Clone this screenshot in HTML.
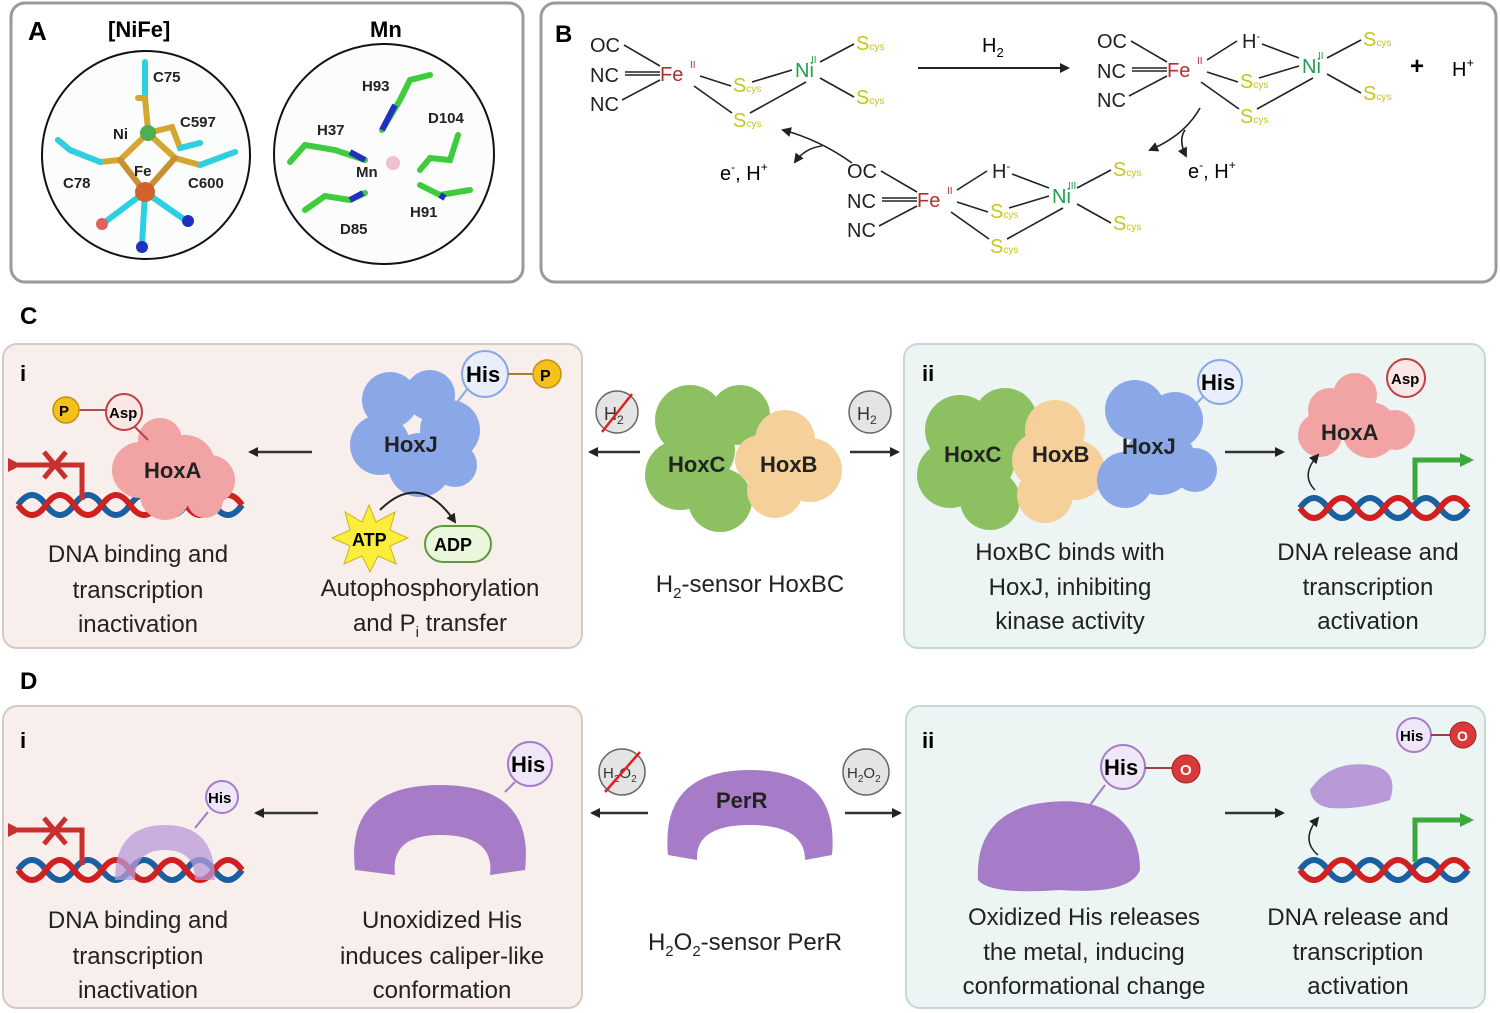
<!DOCTYPE html>
<html><head><meta charset="utf-8"><style>
html,body{margin:0;padding:0;background:#fff;}
svg{display:block;font-family:"Liberation Sans",sans-serif;}
</style></head><body>
<svg width="1500" height="1013" viewBox="0 0 1500 1013" xmlns="http://www.w3.org/2000/svg">
<defs>
<marker id="ah" markerWidth="10" markerHeight="10" refX="8" refY="5" orient="auto" markerUnits="userSpaceOnUse"><path d="M0,0 L10,5 L0,10 z" fill="#222"/></marker>
<marker id="ahg" markerWidth="14" markerHeight="14" refX="10" refY="7" orient="auto" markerUnits="userSpaceOnUse"><path d="M0,0 L14,7 L0,14 z" fill="#3aa83a"/></marker>
<marker id="ahr" markerWidth="14" markerHeight="14" refX="4" refY="7" orient="auto" markerUnits="userSpaceOnUse"><path d="M14,0 L0,7 L14,14 z" fill="#c83030"/></marker>
</defs>

<!-- Panel A -->
<rect x="11" y="3" width="512" height="279" rx="14" fill="#fff" stroke="#9a9a9a" stroke-width="3"/>
<text x="28" y="40" font-size="26" font-weight="bold">A</text>
<text x="108" y="37" font-size="22" font-weight="bold">[NiFe]</text>
<text x="370" y="37" font-size="22" font-weight="bold">Mn</text>
<circle cx="146" cy="155" r="104" fill="#fbfdfd" stroke="#111" stroke-width="2"/>
<circle cx="384" cy="154" r="110" fill="#fbfcfb" stroke="#111" stroke-width="2"/>
<g stroke-linecap="round" fill="none">
 <path d="M145,62 L145,98" stroke="#2dd0e0" stroke-width="6"/>
 <path d="M138,98 L145,98 L148,130" stroke="#d4a830" stroke-width="6"/>
 <path d="M148,133 L120,160 L100,162 L70,150 L58,140" stroke="#d4a830" stroke-width="6"/>
 <path d="M100,162 L70,150 L58,140" stroke="#2dd0e0" stroke-width="6"/>
 <path d="M148,133 L175,158 L200,165 L235,152" stroke="#d4a830" stroke-width="6"/>
 <path d="M200,165 L235,152" stroke="#2dd0e0" stroke-width="6"/>
 <path d="M148,133 L172,127 L180,148 L200,143" stroke="#d4a830" stroke-width="6"/>
 <path d="M180,148 L200,143" stroke="#2dd0e0" stroke-width="6"/>
 <path d="M120,160 L145,192 L175,158" stroke="#c89030" stroke-width="6"/>
 <path d="M145,192 L105,222 M145,192 L142,245 M145,192 L185,220" stroke="#2dd0e0" stroke-width="6"/>
</g>
<circle cx="148" cy="133" r="8" fill="#4caf50"/>
<circle cx="145" cy="192" r="10" fill="#d4602a"/>
<circle cx="102" cy="224" r="6" fill="#e06060"/><circle cx="142" cy="247" r="6" fill="#2030c0"/><circle cx="188" cy="221" r="6" fill="#2030c0"/>
<g font-size="15" font-weight="bold" fill="#222">
<text x="153" y="82">C75</text><text x="180" y="127">C597</text><text x="113" y="139">Ni</text>
<text x="134" y="176">Fe</text><text x="63" y="188">C78</text><text x="188" y="188">C600</text>
</g>
<g stroke="#3ecc3e" stroke-width="6" stroke-linecap="round" fill="none">
 <path d="M382,130 L400,100 L410,80 L430,75"/><path d="M290,162 L305,145 L335,150 L365,160"/>
 <path d="M420,170 L430,158 L450,160 L458,135"/><path d="M420,185 L440,195 L470,190"/>
 <path d="M305,210 L325,196 L350,200 L365,193"/>
</g>
<path d="M382,130 L395,105 M350,152 L365,160 M350,200 L363,193 M440,195 L445,198" stroke="#2030c0" stroke-width="6"/>
<circle cx="393" cy="163" r="7" fill="#f0c0d0"/>
<g font-size="15" font-weight="bold" fill="#222">
<text x="362" y="91">H93</text><text x="317" y="135">H37</text><text x="428" y="123">D104</text>
<text x="356" y="177">Mn</text><text x="410" y="217">H91</text><text x="340" y="234">D85</text>
</g>

<!-- Panel B -->
<rect x="541" y="3" width="955" height="279" rx="14" fill="#fff" stroke="#9a9a9a" stroke-width="3"/>
<text x="555" y="42" font-size="24" font-weight="bold">B</text>
<g font-size="20">
 <text x="590" y="52" fill="#222">OC</text><text x="590" y="82" fill="#222">NC</text><text x="590" y="111" fill="#222">NC</text>
 <text x="660" y="81" fill="#b03030">Fe</text><text x="690" y="68" fill="#b03030" font-size="10">II</text>
 <text x="795" y="77" fill="#20a050">Ni</text><text x="811" y="63" fill="#20a050" font-size="10">II</text>
 <text x="733" y="92" fill="#c6c61c">S<tspan font-size="10">cys</tspan></text>
 <text x="733" y="127" fill="#c6c61c">S<tspan font-size="10">cys</tspan></text>
 <text x="856" y="50" fill="#c6c61c">S<tspan font-size="10">cys</tspan></text>
 <text x="856" y="104" fill="#c6c61c">S<tspan font-size="10">cys</tspan></text>
 <g stroke="#222" stroke-width="1.6">
  <line x1="624" y1="45" x2="660" y2="66"/><line x1="625" y1="72" x2="660" y2="72"/><line x1="625" y1="75" x2="660" y2="75"/>
  <line x1="622" y1="100" x2="660" y2="80"/><line x1="700" y1="76" x2="731" y2="86"/><line x1="752" y1="82" x2="792" y2="70"/>
  <line x1="694" y1="86" x2="732" y2="113"/><line x1="806" y1="82" x2="750" y2="113"/>
  <line x1="820" y1="62" x2="854" y2="44"/><line x1="820" y1="78" x2="854" y2="97"/>
 </g>
</g>
<g transform="translate(507,-4)" font-size="20">
 <text x="590" y="52" fill="#222">OC</text><text x="590" y="82" fill="#222">NC</text><text x="590" y="111" fill="#222">NC</text>
 <text x="660" y="81" fill="#b03030">Fe</text><text x="690" y="68" fill="#b03030" font-size="10">II</text>
 <text x="795" y="77" fill="#20a050">Ni</text><text x="811" y="63" fill="#20a050" font-size="10">II</text>
 <text x="733" y="92" fill="#c6c61c">S<tspan font-size="10">cys</tspan></text>
 <text x="733" y="127" fill="#c6c61c">S<tspan font-size="10">cys</tspan></text>
 <text x="856" y="50" fill="#c6c61c">S<tspan font-size="10">cys</tspan></text>
 <text x="856" y="104" fill="#c6c61c">S<tspan font-size="10">cys</tspan></text>
 <text x="735" y="52" fill="#222">H<tspan font-size="11" dy="-8">-</tspan></text>
 <g stroke="#222" stroke-width="1.6">
  <line x1="624" y1="45" x2="660" y2="66"/><line x1="625" y1="72" x2="660" y2="72"/><line x1="625" y1="75" x2="660" y2="75"/>
  <line x1="622" y1="100" x2="660" y2="80"/><line x1="700" y1="76" x2="731" y2="86"/><line x1="752" y1="82" x2="792" y2="70"/>
  <line x1="694" y1="86" x2="732" y2="113"/><line x1="806" y1="82" x2="750" y2="113"/>
  <line x1="820" y1="62" x2="854" y2="44"/><line x1="820" y1="78" x2="854" y2="97"/>
  <line x1="700" y1="64" x2="730" y2="45"/><line x1="755" y1="48" x2="792" y2="62"/>
 </g>
</g>
<g transform="translate(257,126)" font-size="20">
 <text x="590" y="52" fill="#222">OC</text><text x="590" y="82" fill="#222">NC</text><text x="590" y="111" fill="#222">NC</text>
 <text x="660" y="81" fill="#b03030">Fe</text><text x="690" y="68" fill="#b03030" font-size="10">II</text>
 <text x="795" y="77" fill="#20a050">Ni</text><text x="811" y="63" fill="#20a050" font-size="10">III</text>
 <text x="733" y="92" fill="#c6c61c">S<tspan font-size="10">cys</tspan></text>
 <text x="733" y="127" fill="#c6c61c">S<tspan font-size="10">cys</tspan></text>
 <text x="856" y="50" fill="#c6c61c">S<tspan font-size="10">cys</tspan></text>
 <text x="856" y="104" fill="#c6c61c">S<tspan font-size="10">cys</tspan></text>
 <text x="735" y="52" fill="#222">H<tspan font-size="11" dy="-8">-</tspan></text>
 <g stroke="#222" stroke-width="1.6">
  <line x1="624" y1="45" x2="660" y2="66"/><line x1="625" y1="72" x2="660" y2="72"/><line x1="625" y1="75" x2="660" y2="75"/>
  <line x1="622" y1="100" x2="660" y2="80"/><line x1="700" y1="76" x2="731" y2="86"/><line x1="752" y1="82" x2="792" y2="70"/>
  <line x1="694" y1="86" x2="732" y2="113"/><line x1="806" y1="82" x2="750" y2="113"/>
  <line x1="820" y1="62" x2="854" y2="44"/><line x1="820" y1="78" x2="854" y2="97"/>
  <line x1="700" y1="64" x2="730" y2="45"/><line x1="755" y1="48" x2="792" y2="62"/>
 </g>
</g>
<line x1="918" y1="68" x2="1068" y2="68" stroke="#222" stroke-width="2" marker-end="url(#ah)"/>
<text x="982" y="52" font-size="20">H<tspan font-size="13" dy="5">2</tspan></text>
<text x="1410" y="74" font-size="24" font-weight="bold">+</text>
<text x="1452" y="76" font-size="20">H<tspan font-size="13" dy="-9">+</tspan></text>
<path d="M1200,108 Q1185,135 1150,150" stroke="#222" stroke-width="1.6" fill="none" marker-end="url(#ah)"/>
<path d="M1185,130 Q1178,140 1186,156" stroke="#222" stroke-width="1.6" fill="none" marker-end="url(#ah)"/>
<text x="1188" y="178" font-size="20">e<tspan font-size="12" dy="-9">-</tspan><tspan dy="9">, H</tspan><tspan font-size="12" dy="-9">+</tspan></text>
<path d="M852,163 Q820,140 783,130" stroke="#222" stroke-width="1.6" fill="none" marker-end="url(#ah)"/>
<path d="M822,146 Q805,148 795,162" stroke="#222" stroke-width="1.6" fill="none" marker-end="url(#ah)"/>
<text x="720" y="180" font-size="20">e<tspan font-size="12" dy="-9">-</tspan><tspan dy="9">, H</tspan><tspan font-size="12" dy="-9">+</tspan></text>

<!-- C & D boxes -->
<text x="20" y="324" font-size="24" font-weight="bold">C</text>
<rect x="3" y="344" width="579" height="304" rx="14" fill="#f8efec" stroke="#d8c8c4" stroke-width="2"/>
<rect x="904" y="344" width="581" height="304" rx="14" fill="#edf5f4" stroke="#c4d8d6" stroke-width="2"/>
<text x="20" y="381" font-size="22" font-weight="bold">i</text>
<text x="922" y="381" font-size="22" font-weight="bold">ii</text>
<text x="20" y="689" font-size="24" font-weight="bold">D</text>
<rect x="3" y="706" width="579" height="302" rx="14" fill="#f8efec" stroke="#d8c8c4" stroke-width="2"/>
<rect x="906" y="706" width="579" height="302" rx="14" fill="#edf5f4" stroke="#c4d8d6" stroke-width="2"/>
<text x="20" y="748" font-size="22" font-weight="bold">i</text>
<text x="922" y="748" font-size="22" font-weight="bold">ii</text>

<!-- DNA -->
<g fill="none" stroke-width="6">
 <path d="M18,505 q14,-20 28,0 t28,0 t28,0 t28,0 t28,0 t28,0 t28,0 t28,0" stroke="#1a5fa0"/>
 <path d="M18,505 q14,20 28,0 t28,0 t28,0 t28,0 t28,0 t28,0 t28,0 t28,0" stroke="#d02020"/>
 <path d="M1300,508 q14,-20 28,0 t28,0 t28,0 t28,0 t28,0 t28,0" stroke="#1a5fa0"/>
 <path d="M1300,508 q14,20 28,0 t28,0 t28,0 t28,0 t28,0 t28,0" stroke="#d02020"/>
 <path d="M18,870 q14,-20 28,0 t28,0 t28,0 t28,0 t28,0 t28,0 t28,0 t28,0" stroke="#1a5fa0"/>
 <path d="M18,870 q14,20 28,0 t28,0 t28,0 t28,0 t28,0 t28,0 t28,0 t28,0" stroke="#d02020"/>
 <path d="M1300,870 q14,-20 28,0 t28,0 t28,0 t28,0 t28,0 t28,0" stroke="#1a5fa0"/>
 <path d="M1300,870 q14,20 28,0 t28,0 t28,0 t28,0 t28,0 t28,0" stroke="#d02020"/>
</g>
<g stroke="#c83030" stroke-width="5" fill="none">
 <path d="M82,500 L82,465 L18,465" marker-end="url(#ahr)"/>
 <path d="M44,452 L66,478 M66,452 L44,478"/>
 <path d="M82,865 L82,830 L18,830" marker-end="url(#ahr)"/>
 <path d="M44,818 L66,844 M66,818 L44,844"/>
</g>
<g stroke="#3aa83a" stroke-width="5" fill="none">
 <path d="M1415,500 L1415,460 L1470,460" marker-end="url(#ahg)"/>
 <path d="M1415,862 L1415,820 L1470,820" marker-end="url(#ahg)"/>
</g>

<!-- HoxA C i -->
<g fill="#f2a3a3"><circle cx="160" cy="440" r="22"/><circle cx="140" cy="470" r="28"/><circle cx="185" cy="465" r="30"/><circle cx="210" cy="480" r="25"/><circle cx="165" cy="495" r="25"/><circle cx="205" cy="500" r="18"/></g>
<text x="144" y="478" font-size="22" font-weight="bold" fill="#222">HoxA</text>
<line x1="78" y1="410" x2="106" y2="410" stroke="#b05050" stroke-width="2"/>
<circle cx="66" cy="410" r="13" fill="#f3c11a" stroke="#c09010" stroke-width="1.5"/><text x="59" y="416" font-size="15" font-weight="bold">P</text>
<circle cx="124" cy="412" r="18" fill="#fbe6e6" stroke="#c04040" stroke-width="2"/><text x="109" y="418" font-size="15" font-weight="bold">Asp</text>
<line x1="135" y1="427" x2="148" y2="440" stroke="#c04040" stroke-width="2"/>
<g font-size="24" fill="#222" text-anchor="middle"><text x="138" y="562">DNA binding  and</text><text x="138" y="598">transcription</text><text x="138" y="632">inactivation</text></g>
<line x1="312" y1="452" x2="250" y2="452" stroke="#333" stroke-width="2.5" marker-end="url(#ah)"/>

<!-- HoxJ C i -->
<g fill="#8aa8e8"><circle cx="390" cy="400" r="28"/><circle cx="430" cy="395" r="25"/><circle cx="450" cy="430" r="30"/><circle cx="380" cy="445" r="30"/><circle cx="420" cy="465" r="32"/><circle cx="455" cy="465" r="22"/></g>
<text x="384" y="452" font-size="22" font-weight="bold" fill="#222">HoxJ</text>
<line x1="468" y1="388" x2="455" y2="405" stroke="#8aa8e8" stroke-width="2"/>
<circle cx="485" cy="374" r="23" fill="#e8eefa" stroke="#8aa8e8" stroke-width="2"/><text x="466" y="382" font-size="22" font-weight="bold">His</text>
<line x1="508" y1="374" x2="533" y2="374" stroke="#a08030" stroke-width="2"/>
<circle cx="547" cy="374" r="14" fill="#f3c11a" stroke="#c09010" stroke-width="1.5"/><text x="540" y="381" font-size="16" font-weight="bold">P</text>
<polygon points="369,505 376,522 395,512 390,530 408,538 390,546 396,564 378,556 370,572 362,556 344,564 350,546 332,538 350,530 345,512 362,522" fill="#fbee3a" stroke="#d0b020"/>
<text x="352" y="546" font-size="18" font-weight="bold">ATP</text>
<rect x="425" y="526" width="66" height="36" rx="18" fill="#eaf7dc" stroke="#5a9a3a" stroke-width="2"/>
<text x="434" y="551" font-size="18" font-weight="bold">ADP</text>
<path d="M380,510 Q420,470 455,522" stroke="#222" stroke-width="2" fill="none" marker-end="url(#ah)"/>
<g font-size="24" fill="#222" text-anchor="middle"><text x="430" y="596">Autophosphorylation</text><text x="430" y="631">and P<tspan font-size="15" dy="6">i</tspan><tspan dy="-6"> transfer</tspan></text></g>

<!-- center C -->
<circle cx="617" cy="412" r="21" fill="#e4e4e4" stroke="#666" stroke-width="1.5"/>
<text x="604" y="420" font-size="18" fill="#333">H<tspan font-size="12" dy="4">2</tspan></text>
<line x1="602" y1="432" x2="632" y2="394" stroke="#e02020" stroke-width="2.5"/>
<circle cx="870" cy="412" r="21" fill="#e4e4e4" stroke="#666" stroke-width="1.5"/>
<text x="857" y="420" font-size="18" fill="#333">H<tspan font-size="12" dy="4">2</tspan></text>
<line x1="640" y1="452" x2="590" y2="452" stroke="#333" stroke-width="2.5" marker-end="url(#ah)"/>
<line x1="850" y1="452" x2="898" y2="452" stroke="#333" stroke-width="2.5" marker-end="url(#ah)"/>
<g fill="#8dc060"><circle cx="690" cy="420" r="35"/><circle cx="740" cy="415" r="30"/><circle cx="680" cy="475" r="35"/><circle cx="720" cy="500" r="32"/><circle cx="700" cy="450" r="35"/></g>
<g fill="#f6d09a"><circle cx="785" cy="440" r="30"/><circle cx="810" cy="470" r="32"/><circle cx="775" cy="490" r="28"/><circle cx="760" cy="460" r="25"/></g>
<text x="668" y="472" font-size="22" font-weight="bold" fill="#222">HoxC</text>
<text x="760" y="472" font-size="22" font-weight="bold" fill="#222">HoxB</text>
<text x="750" y="592" font-size="24" fill="#222" text-anchor="middle">H<tspan font-size="15" dy="6">2</tspan><tspan dy="-6">-sensor HoxBC</tspan></text>

<!-- C ii -->
<g fill="#8dc060"><circle cx="960" cy="430" r="35"/><circle cx="1005" cy="420" r="32"/><circle cx="950" cy="475" r="33"/><circle cx="990" cy="500" r="30"/><circle cx="980" cy="460" r="35"/></g>
<g fill="#f6d09a"><circle cx="1055" cy="430" r="30"/><circle cx="1075" cy="470" r="30"/><circle cx="1045" cy="495" r="28"/><circle cx="1040" cy="460" r="28"/></g>
<g fill="#8aa8e8"><circle cx="1135" cy="410" r="30"/><circle cx="1175" cy="420" r="28"/><circle cx="1160" cy="460" r="35"/><circle cx="1125" cy="480" r="28"/><circle cx="1195" cy="470" r="22"/></g>
<text x="944" y="462" font-size="22" font-weight="bold" fill="#222">HoxC</text>
<text x="1032" y="462" font-size="22" font-weight="bold" fill="#222">HoxB</text>
<text x="1122" y="454" font-size="22" font-weight="bold" fill="#222">HoxJ</text>
<line x1="1205" y1="395" x2="1195" y2="405" stroke="#8aa8e8" stroke-width="2"/>
<circle cx="1220" cy="382" r="22" fill="#e8eefa" stroke="#8aa8e8" stroke-width="2"/><text x="1201" y="390" font-size="22" font-weight="bold">His</text>
<g font-size="24" fill="#222" text-anchor="middle"><text x="1070" y="560">HoxBC binds with</text><text x="1070" y="595">HoxJ, inhibiting</text><text x="1070" y="629">kinase  activity</text></g>
<line x1="1225" y1="452" x2="1283" y2="452" stroke="#333" stroke-width="2.5" marker-end="url(#ah)"/>
<g fill="#f2a3a3"><circle cx="1330" cy="410" r="22"/><circle cx="1355" cy="395" r="22"/><circle cx="1320" cy="435" r="22"/><circle cx="1370" cy="430" r="28"/><circle cx="1395" cy="430" r="20"/></g>
<text x="1321" y="440" font-size="22" font-weight="bold" fill="#222">HoxA</text>
<circle cx="1406" cy="378" r="19" fill="#fbe6e6" stroke="#c04040" stroke-width="2"/><text x="1391" y="384" font-size="15" font-weight="bold">Asp</text>
<path d="M1315,490 Q1300,475 1318,455" stroke="#222" stroke-width="1.5" fill="none" marker-end="url(#ah)"/>
<g font-size="24" fill="#222" text-anchor="middle"><text x="1368" y="560">DNA release and</text><text x="1368" y="595">transcription</text><text x="1368" y="629">activation</text></g>

<!-- D i -->
<path d="M115,880 Q115,825 165,825 Q215,825 215,880 L195,880 Q195,850 165,850 Q135,850 135,880 Z" fill="#b89ad8" opacity="0.75"/>
<line x1="208" y1="812" x2="195" y2="828" stroke="#a67cc8" stroke-width="2"/>
<circle cx="222" cy="797" r="16" fill="#efe6f7" stroke="#a67cc8" stroke-width="2"/><text x="208" y="803" font-size="15" font-weight="bold">His</text>
<g font-size="24" fill="#222" text-anchor="middle"><text x="138" y="928">DNA binding  and</text><text x="138" y="964">transcription</text><text x="138" y="998">inactivation</text></g>
<line x1="318" y1="813" x2="256" y2="813" stroke="#333" stroke-width="2.5" marker-end="url(#ah)"/>

<path d="M355,870 Q345,785 440,785 Q535,785 525,870 L490,875 Q495,835 440,835 Q390,835 395,875 Z" fill="#a67cc8"/>
<line x1="515" y1="782" x2="505" y2="792" stroke="#a67cc8" stroke-width="2"/>
<circle cx="530" cy="764" r="22" fill="#efe6f7" stroke="#a67cc8" stroke-width="2"/><text x="511" y="772" font-size="22" font-weight="bold">His</text>
<g font-size="24" fill="#222" text-anchor="middle"><text x="442" y="928">Unoxidized His</text><text x="442" y="964">induces caliper-like</text><text x="442" y="998">conformation</text></g>

<circle cx="622" cy="772" r="23" fill="#e4e4e4" stroke="#666" stroke-width="1.5"/>
<text x="603" y="778" font-size="15" fill="#333">H<tspan font-size="10" dy="4">2</tspan><tspan dy="-4">O</tspan><tspan font-size="10" dy="4">2</tspan></text>
<line x1="605" y1="792" x2="640" y2="752" stroke="#e02020" stroke-width="2.5"/>
<circle cx="866" cy="772" r="23" fill="#e4e4e4" stroke="#666" stroke-width="1.5"/>
<text x="847" y="778" font-size="15" fill="#333">H<tspan font-size="10" dy="4">2</tspan><tspan dy="-4">O</tspan><tspan font-size="10" dy="4">2</tspan></text>
<line x1="648" y1="813" x2="592" y2="813" stroke="#333" stroke-width="2.5" marker-end="url(#ah)"/>
<line x1="845" y1="813" x2="900" y2="813" stroke="#333" stroke-width="2.5" marker-end="url(#ah)"/>
<path d="M668,855 Q660,770 750,770 Q840,770 832,855 L805,860 Q805,825 750,825 Q695,825 697,860 Z" fill="#a67cc8"/>
<text x="716" y="808" font-size="22" font-weight="bold" fill="#222">PerR</text>
<text x="745" y="950" font-size="24" fill="#222" text-anchor="middle">H<tspan font-size="15" dy="6">2</tspan><tspan dy="-6">O</tspan><tspan font-size="15" dy="6">2</tspan><tspan dy="-6">-sensor PerR</tspan></text>

<!-- D ii -->
<path d="M978,880 Q975,820 1030,805 Q1080,795 1110,812 Q1140,830 1140,870 Q1130,895 1060,890 Q990,895 978,880 Z" fill="#a67cc8"/>
<line x1="1105" y1="785" x2="1090" y2="805" stroke="#a67cc8" stroke-width="2"/>
<circle cx="1123" cy="767" r="22" fill="#efe6f7" stroke="#a67cc8" stroke-width="2"/><text x="1104" y="775" font-size="22" font-weight="bold">His</text>
<line x1="1145" y1="768" x2="1172" y2="768" stroke="#a04040" stroke-width="2"/>
<circle cx="1186" cy="769" r="14" fill="#d83a3a" stroke="#a02020"/><text x="1180" y="775" font-size="15" font-weight="bold" fill="#fff">O</text>
<g font-size="24" fill="#222" text-anchor="middle"><text x="1084" y="925">Oxidized His releases</text><text x="1084" y="960">the metal, inducing</text><text x="1084" y="994">conformational change</text></g>
<line x1="1225" y1="813" x2="1283" y2="813" stroke="#333" stroke-width="2.5" marker-end="url(#ah)"/>
<path d="M1310,790 Q1330,760 1370,765 Q1400,770 1390,800 Q1360,810 1330,808 Q1312,805 1310,790 Z" fill="#b89ad8"/>
<circle cx="1414" cy="735" r="17" fill="#efe6f7" stroke="#a67cc8" stroke-width="2"/><text x="1400" y="741" font-size="15" font-weight="bold">His</text>
<line x1="1431" y1="735" x2="1450" y2="735" stroke="#a04040" stroke-width="2"/>
<circle cx="1463" cy="735" r="13" fill="#d83a3a" stroke="#a02020"/><text x="1457" y="741" font-size="14" font-weight="bold" fill="#fff">O</text>
<path d="M1318,855 Q1300,840 1318,818" stroke="#222" stroke-width="1.5" fill="none" marker-end="url(#ah)"/>
<g font-size="24" fill="#222" text-anchor="middle"><text x="1358" y="925">DNA release and</text><text x="1358" y="960">transcription</text><text x="1358" y="994">activation</text></g>
</svg>
</body></html>
